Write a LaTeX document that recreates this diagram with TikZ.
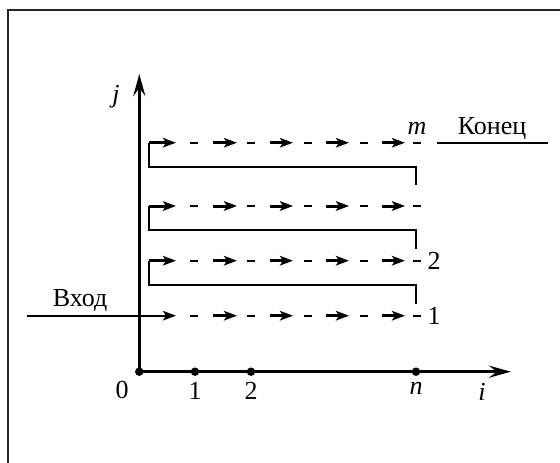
\documentclass[tikz,border=0pt]{standalone}
\usepackage{fontspec}
\setmainfont{Liberation Serif}
\usetikzlibrary{arrows.meta}
\begin{document}
\begin{tikzpicture}[x=1pt,y=-1pt,
  axisline/.style={line width=3.2pt,-{Stealth[length=22pt,width=12pt,inset=8pt]}},
  rowarrow/.style={line width=3pt,-{Stealth[length=13pt,width=9.5pt,inset=3pt]}},
  entryline/.style={line width=2.4pt,-{Stealth[length=13pt,width=9.5pt,inset=3pt]}},
  dashseg/.style={line width=1.6pt},
  retline/.style={line width=2.1pt},
  frameline/.style={line width=1.9pt,black!85},
  lbl/.style={font=\fontsize{26}{30}\selectfont, inner sep=0pt},
  dot/.style={circle,fill,inner sep=0pt,minimum size=8.5pt}]
\useasboundingbox (0,0) rectangle (560,463);
% frame
\coordinate (F0) at (8,10);
\coordinate (F1) at (560,10);
\coordinate (F2) at (8,463);
\draw[frameline] (F1) -- (F0) -- (F2);
% axes
\coordinate (O) at (139.3,371.7);
\coordinate (Ytip) at (139.3,74);
\coordinate (Xtip) at (511,371.7);
\draw[axisline] (O) -- (Ytip);
\draw[axisline] (O) -- (Xtip);
\node[dot] (d0) at (O) {};
\node[dot] (d1) at (195,371.7) {};
\node[dot] (d2) at (251,371.7) {};
\node[dot] (dn) at (416,371.7) {};
\node[lbl] (l0) at (122,390) {0};
\node[lbl] (l1) at (195,391) {1};
\node[lbl] (l2) at (251,391) {2};
\node[lbl] (ln) at (416,388) {\itshape n};
\node[lbl] (li) at (482,392) {\itshape i};
\node[lbl] (lj) at (116,97) {\itshape j};
% rows
\foreach \r/\y in {1/315.7,2/260.7,3/206,4/142.7}{
  \foreach \k/\a/\b in {0/213/237,1/270/293,2/326/349,3/382/405}{
    \coordinate (a\r\k) at (\a,\y);
    \coordinate (b\r\k) at (\b,\y);
    \draw[rowarrow] (a\r\k) -- (b\r\k);
  }
  \foreach \k/\a/\b in {0/190/198,1/247/255,2/304/312,3/360/368,4/413/421}{
    \coordinate (p\r\k) at (\a,\y);
    \coordinate (q\r\k) at (\b,\y);
    \draw[dashseg] (p\r\k) -- (q\r\k);
  }
}
% first arrows of each row
\coordinate (In) at (27,315.7);
\coordinate (s1) at (176,315.7);
\draw[entryline] (In) -- (s1);
\foreach \r/\y/\ry in {2/260.7/285,3/206/230,4/142.7/166.7}{
  \coordinate (st\r) at (149,\y);
  \coordinate (se\r) at (176,\y);
  \coordinate (rl\r) at (149,\ry);
  \coordinate (rr\r) at (416,\ry);
  \coordinate (rb\r) at (416,\ry+18.5);
  \draw[retline] (rb\r) -- (rr\r) -- (rl\r) -- (st\r);
  \draw[rowarrow] (st\r) -- (se\r);
}
\node[lbl] (lin) at (80,300) {Вход};
\node[lbl] (r1) at (434,316) {1};
\node[lbl] (r2) at (434,261) {2};
\node[lbl] (lm) at (417,128) {\itshape m};
\node[lbl] (lend) at (492,128) {Конец};
\coordinate (E0) at (437,142.7);
\coordinate (E1) at (548,142.7);
\draw[retline] (E0) -- (E1);
\end{tikzpicture}
\end{document}
